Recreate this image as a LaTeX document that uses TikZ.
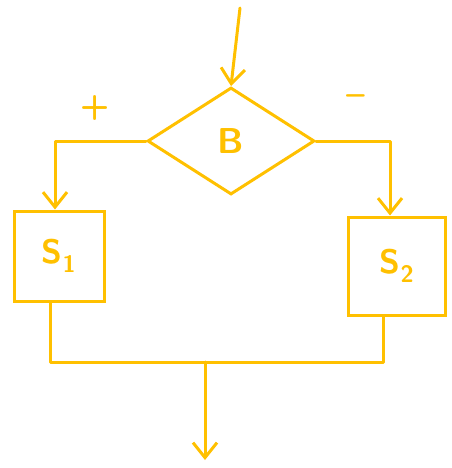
\documentclass[tikz,border=0pt]{standalone}
\usetikzlibrary{shapes.geometric,arrows.meta}
\definecolor{pen}{HTML}{FFC000}
\begin{document}
\begin{tikzpicture}[x=1pt,y=-1pt,
  wire/.style={draw=pen,line width=3pt,line cap=round,line join=round},
  arr/.style={-{Straight Barb[length=15pt,width=24pt,line width=3pt]}},
  decision/.style={diamond,draw=pen,line width=3pt,minimum width=167pt,minimum height=107pt,inner sep=0pt,text=pen,font=\sffamily\bfseries\fontsize{36}{36}\selectfont},
  block/.style={rectangle,draw=pen,line width=3pt,inner sep=0pt,text=pen,font=\sffamily\bfseries\fontsize{34}{34}\selectfont},
  sign/.style={text=pen,font=\sffamily\bfseries\fontsize{34}{34}\selectfont}]
\path[use as bounding box,draw=none] (0,0) rectangle (451,468);
\node[decision] (d) at (231,141) {B};
\node[block,minimum width=90pt,minimum height=90pt] (s1) at (59,256) {S\textsubscript{1}};
\node[block,minimum width=97pt,minimum height=98pt] (s2) at (397,266) {S\textsubscript{2}};
\node[sign] (plus) at (95,108) {+};
\node[sign] (minus) at (356,100) {\textendash};
\coordinate (top) at (240,8);
\coordinate (j) at (205,362);
\coordinate (out) at (205,460);
\draw[wire,arr] (top) -- (d.north);
\draw[wire,arr] (d.west) -| ([xshift=-4pt]s1.north);
\draw[wire,arr] (d.east) -| ([xshift=-7pt]s2.north);
\draw[wire] ([xshift=-9pt]s1.south) |- (j) -| ([xshift=-14pt]s2.south);
\draw[wire,arr] (j) -- (out);
\end{tikzpicture}
\end{document}
